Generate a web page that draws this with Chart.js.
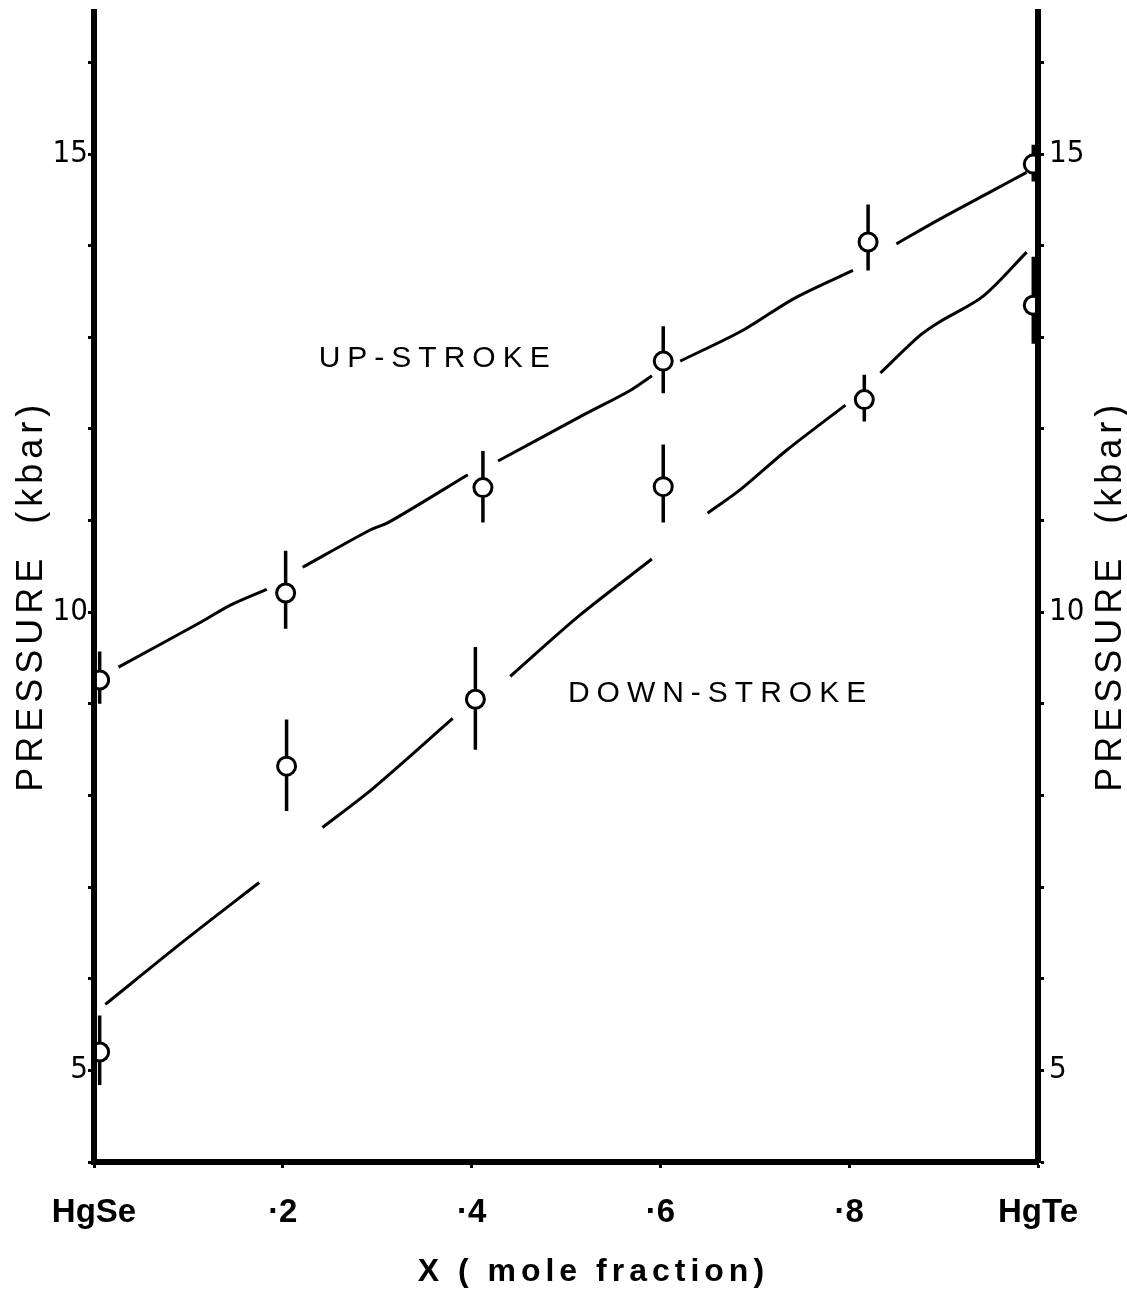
<!DOCTYPE html>
<html>
<head>
<meta charset="utf-8">
<script src="https://cdn.jsdelivr.net/npm/chart.js@4.4.0/dist/chart.umd.min.js"></script>
<style>
  html, body { margin: 0; padding: 0; background: #fff; }
  #wrap { position: relative; width: 1127px; height: 1293px; }
</style>
</head>
<body>
<div id="wrap"><canvas id="c"></canvas></div>
<script>
// ---------- data ----------
const xTickValues = [0, 0.2, 0.4, 0.6, 0.8, 1.0];
const xTickLabels = ['HgSe', '·2', '·4', '·6', '·8', 'HgTe'];
const yTickValues = [4, 5, 6, 7, 8, 9, 10, 11, 12, 13, 14, 15, 16];
const yLabelValues = [5, 10, 15];

// Up-stroke measured points (circle) with error bars
const upX    = [0.006, 0.203, 0.412, 0.603, 0.820, 0.995];
const upY    = [9.26, 10.21, 11.36, 12.74, 14.04, 14.89];
const upLow  = [9.00,  9.82, 10.98, 12.39, 13.73, 14.70];
const upHigh = [9.57, 10.67, 11.76, 13.12, 14.45, 15.10];

// Down-stroke measured points (circle) with error bars
const downX    = [0.006, 0.204, 0.404, 0.603, 0.816, 0.995];
const downY    = [5.20, 8.32, 9.05, 11.37, 12.32, 13.35];
const downLow  = [4.84, 7.83, 8.50, 10.98, 12.08, 12.93];
const downHigh = [5.60, 8.83, 9.62, 11.83, 12.59, 13.88];

// Hand-drawn guide curves (null = pen lifted near a data point)
const upCurveX = [0.026, 0.113, 0.145, 0.183, 0.200, 0.221, 0.293, 0.312, 0.396, 0.410, 0.428, 0.518, 0.568, 0.591, 0.600, 0.621, 0.688, 0.741, 0.804, 0.820, 0.850, 0.896, 0.952, 0.988];
const upCurveY = [9.40, 9.89, 10.08, 10.25, null, 10.49, 10.90, 10.98, 11.50, null, 11.65, 12.15, 12.42, 12.58, null, 12.74, 13.08, 13.42, 13.73, null, 14.02, 14.29, 14.60, 14.80];

const downCurveX = [0.012, 0.095, 0.175, 0.200, 0.242, 0.296, 0.380, 0.400, 0.441, 0.515, 0.591, 0.600, 0.650, 0.685, 0.734, 0.796, 0.816, 0.833, 0.875, 0.896, 0.942, 0.988];
const downCurveY = [5.72, 6.41, 7.05, null, 7.65, 8.08, 8.84, null, 9.30, 9.97, 10.58, null, 11.08, 11.34, 11.77, 12.26, null, 12.61, 13.02, 13.17, 13.45, 13.93];

const xTitle = 'X ( mole fraction)';
const yTitle = 'PRESSURE  (kbar)';
const notes = [
  { text: 'UP-STROKE',   x: 0.238, y: 12.77 },
  { text: 'DOWN-STROKE', x: 0.502, y: 9.11 }
];

// ---------- helpers ----------
const pts = (xs, ys) => xs.map((x, i) => ({ x: x, y: ys[i] }));
const errBars = (xs, lo, hi) => {
  const d = [];
  xs.forEach((x, i) => { d.push({ x: x, y: lo[i] }, { x: x, y: hi[i] }, { x: x, y: null }); });
  return d;
};

const FONT = '"Liberation Sans", "DejaVu Sans", Arial, sans-serif';
const NARROW = '"Liberation Sans Narrow", "DejaVu Sans Condensed", "Liberation Sans", sans-serif';

const textPlugin = {
  id: 'texts',
  afterDraw(chart) {
    const { ctx, scales } = chart;
    const xs = scales.x, ys = scales.y;
    ctx.save();
    ctx.fillStyle = '#000';
    // curve annotations
    ctx.font = '30px ' + FONT;
    ctx.letterSpacing = '7px';
    ctx.textAlign = 'left';
    ctx.textBaseline = 'middle';
    notes.forEach(n => ctx.fillText(n.text, xs.getPixelForValue(n.x), ys.getPixelForValue(n.y)));
    // y titles (both sides), baseline on the right edge of the letters
    ctx.font = '36px ' + FONT;
    ctx.letterSpacing = '5px';
    ctx.textAlign = 'center';
    ctx.textBaseline = 'alphabetic';
    const cy = ys.getPixelForValue(10.18);
    [42, chart.width - 6].forEach(bx => {
      ctx.save();
      ctx.translate(bx, cy);
      ctx.rotate(-Math.PI / 2);
      ctx.fillText(yTitle, 0, 0);
      ctx.restore();
    });
    // x title
    ctx.font = 'bold 32px ' + FONT;
    ctx.letterSpacing = '5px';
    ctx.textAlign = 'center';
    ctx.textBaseline = 'middle';
    ctx.fillText(xTitle, xs.getPixelForValue(0.529), chart.height - 21);
    ctx.restore();
  }
};

const axisGrid = { display: true, drawOnChartArea: false, drawTicks: true, tickLength: 6, tickWidth: 3, color: '#000' };
const axisBorder = { display: true, width: 6, color: '#000', z: 1 };
const noPad = s => { s.paddingTop = 0; s.paddingBottom = 0; };

new Chart(document.getElementById('c'), {
  type: 'scatter',
  data: {
    datasets: [
      { label: 'Up-stroke', data: pts(upX, upY), showLine: false, pointRadius: 9, pointHoverRadius: 9,
        pointBorderWidth: 3, pointBackgroundColor: '#fff', pointBorderColor: '#000', clip: 0, order: 0 },
      { label: 'Down-stroke', data: pts(downX, downY), showLine: false, pointRadius: 9, pointHoverRadius: 9,
        pointBorderWidth: 3, pointBackgroundColor: '#fff', pointBorderColor: '#000', clip: 0, order: 0 },
      { label: 'Up-stroke curve', data: pts(upCurveX, upCurveY), showLine: true, spanGaps: false, pointRadius: 0,
        borderColor: '#000', borderWidth: 3, tension: 0.3, clip: 0, order: 1 },
      { label: 'Down-stroke curve', data: pts(downCurveX, downCurveY), showLine: true, spanGaps: false, pointRadius: 0,
        borderColor: '#000', borderWidth: 3, tension: 0.3, clip: 0, order: 1 },
      { label: 'Up-stroke error', data: errBars(upX, upLow, upHigh), showLine: true, spanGaps: false, pointRadius: 0,
        borderColor: '#000', borderWidth: 3.5, tension: 0, clip: 0, order: 2 },
      { label: 'Down-stroke error', data: errBars(downX, downLow, downHigh), showLine: true, spanGaps: false, pointRadius: 0,
        borderColor: '#000', borderWidth: 3.5, tension: 0, clip: 0, order: 2 }
    ]
  },
  options: {
    responsive: true,
    maintainAspectRatio: false,
    animation: false,
    events: [],
    layout: { padding: { top: 8, left: 0, right: 0, bottom: 0 } },
    plugins: { legend: { display: false }, tooltip: { enabled: false } },
    scales: {
      x: {
        type: 'linear', position: 'bottom', min: 0, max: 1,
        afterBuildTicks: s => { s.ticks = xTickValues.map(v => ({ value: v })); },
        afterFit: s => { s.height = 131; s.paddingLeft = 0; s.paddingRight = 0; },
        ticks: {
          autoSkip: false, maxRotation: 0, padding: 25, color: '#000',
          font: { family: FONT, size: 33, weight: 'bold' },
          callback: (v, i) => xTickLabels[i]
        },
        grid: axisGrid, border: axisBorder
      },
      y: {
        type: 'linear', position: 'left', min: 4, max: 16.55,
        afterBuildTicks: s => { s.ticks = yTickValues.map(v => ({ value: v })); },
        afterFit: s => { s.width = 94; noPad(s); },
        ticks: {
          padding: 0, color: '#000', font: { family: NARROW, size: 31 },
          callback: v => (yLabelValues.includes(v) ? String(v) : '')
        },
        grid: axisGrid, border: axisBorder
      },
      y2: {
        type: 'linear', position: 'right', min: 4, max: 16.55,
        afterBuildTicks: s => { s.ticks = yTickValues.map(v => ({ value: v })); },
        afterFit: s => { s.width = 89; noPad(s); },
        ticks: {
          padding: 5, color: '#000', font: { family: NARROW, size: 31 },
          callback: v => (yLabelValues.includes(v) ? String(v) : '')
        },
        grid: axisGrid, border: axisBorder
      }
    }
  },
  plugins: [textPlugin]
});
</script>
</body>
</html>
